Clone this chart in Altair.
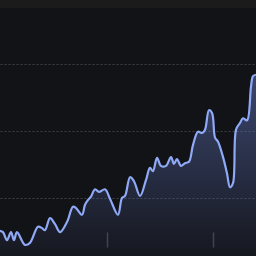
import altair as alt
import pandas as pd

# x positions (data units, 0..240) and values
xs = [0, 2.8, 6.6, 10.3, 13.1, 15.9, 23.4, 28.1, 35.6, 39.4, 42.2, 46.9, 51.6, 56.3,
      62.8, 68.4, 71.3, 76.9, 79.7, 82.5, 85.3, 89.1, 92.8, 98.4, 103.1, 110.6, 114.4,
      117.2, 121.9, 125.6, 131.3, 136.9, 140.6, 143.4, 147.2, 150.9, 155.6, 160.3,
      163.1, 165.9, 169.7, 173.4, 177.2, 180.9, 185.6, 189.4, 192.2, 195.9, 198.8,
      201.6, 204.4, 209.1, 212.8, 215.6, 218.4, 221.3, 225.0, 227.8, 231.6, 235.3,
      237.2, 240]
vals = [51, 49, 37, 49, 37, 49, 30, 33, 57, 55, 52, 70, 61, 49,
        64, 87, 85, 75, 90, 97, 102, 113, 109, 113, 99, 75, 100,
        103, 131, 125, 103, 127, 145, 140, 160, 148, 148, 161,
        151, 158, 148, 152, 154, 179, 199, 197, 202, 231, 227,
        190, 184, 161, 137, 116, 122, 202, 212, 219, 216, 266,
        282, 284]
grid_vals = [100, 200, 300]
tick_vals = [100, 200]

df = pd.DataFrame({"x": xs, "v": vals})

xscale = alt.Scale(domain=[0, 240], nice=False, zero=False)
yscale = alt.Scale(domain=[13.4, 383.6], nice=False, zero=False)

base = alt.Chart(df)

area = base.mark_area(
    interpolate="catmull-rom",
    clip=True,
    color=alt.Gradient(
        gradient="linear",
        stops=[
            alt.GradientStop(color="rgba(120,148,240,0.40)", offset=0),
            alt.GradientStop(color="rgba(120,148,240,0.02)", offset=1),
        ],
        x1=1, x2=1, y1=0, y2=1,
    ),
).encode(
    x=alt.X("x:Q", scale=xscale,
            axis=alt.Axis(values=tick_vals, labels=False, grid=False, domain=False,
                          ticks=True, tickSize=15, tickColor="#3c3d44", tickWidth=1.5,
                          offset=-24, title=None)),
    y=alt.Y("v:Q", scale=yscale,
            axis=alt.Axis(values=grid_vals, labels=False, ticks=False, domain=False,
                          grid=True, gridColor="#3e3f47", gridDash=[2, 2], gridWidth=1,
                          title=None)),
)

line = base.mark_line(
    interpolate="catmull-rom", clip=True, color="#8fa9f7", strokeWidth=2.2
).encode(x=alt.X("x:Q", scale=xscale), y=alt.Y("v:Q", scale=yscale))

chart = (area + line).properties(
    width=256, height=248,
    autosize=alt.AutoSizeParams(type="none"),
    padding={"left": 0, "top": 8, "right": 0, "bottom": 0},
    background="#1b1b1c",
).configure_view(fill="#121317", stroke=None)

chart.save("out.html", embed_options={"renderer": "svg", "actions": False})
